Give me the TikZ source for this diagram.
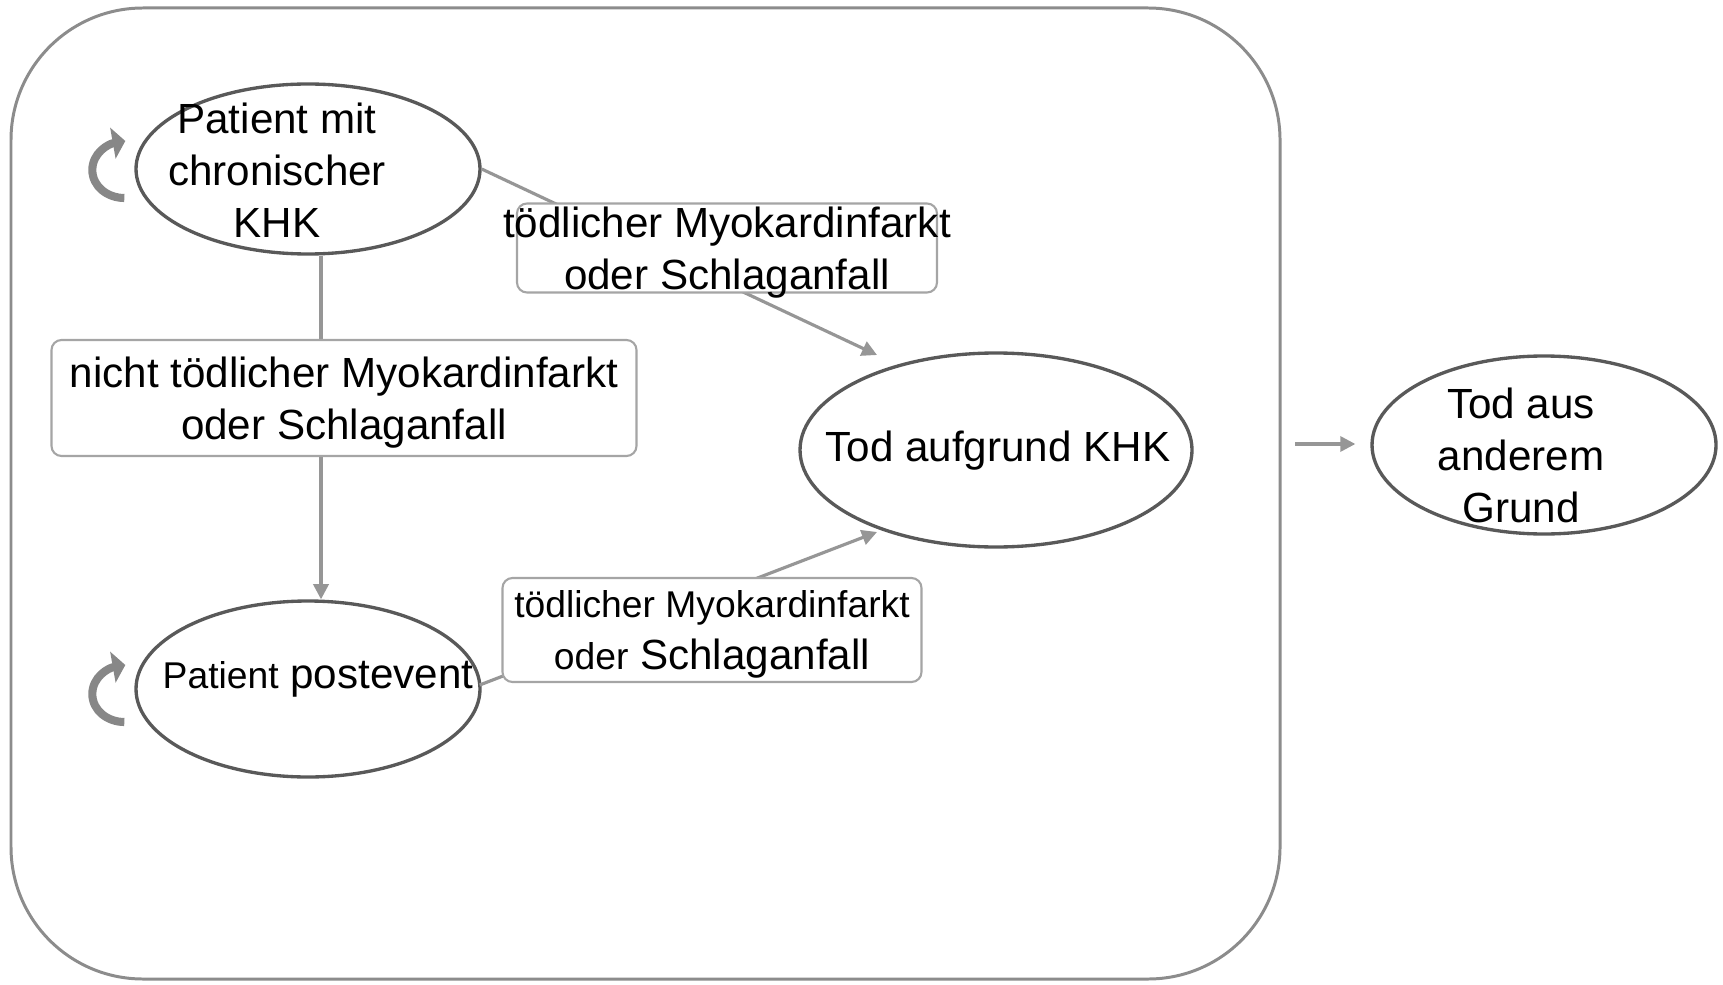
\documentclass[tikz,border=0pt]{standalone}
\usepackage{fontspec}
\setmainfont{Liberation Sans}
\usetikzlibrary{calc,positioning,shapes.geometric,arrows.meta}

\definecolor{rimgray}{RGB}{140,140,140}
\definecolor{ovalgray}{RGB}{89,89,89}
\definecolor{boxgray}{RGB}{165,165,165}
\definecolor{linegray}{RGB}{150,150,150}
\definecolor{cycgray}{RGB}{135,135,135}
\newcommand{\lgtxt}{\fontsize{12}{14.8}\selectfont}
\newcommand{\smtxt}{\fontsize{10.6}{13}\selectfont}

\begin{document}
\begin{tikzpicture}[x=0.1mm,y=-0.1mm,
  state/.style={ellipse,draw=ovalgray,line width=0.95pt,inner sep=0pt},
  lbl/.style={align=center,inner sep=0pt,font=\lgtxt},
  evbox/.style={rectangle,rounded corners=1mm,draw=boxgray,line width=0.6pt,fill=white,inner sep=0pt,align=center,font=\lgtxt,text depth=0pt},
  conn/.style={draw=linegray,line width=0.9pt,-{Triangle[length=4.3pt,width=4.3pt]},linegray},
  cycarrow/.style={draw=cycgray,line width=2.3pt,-{Triangle[length=3.6pt,width=8.8pt]},cycgray}
]
\useasboundingbox (0,0) rectangle (1723,984);

\draw[rimgray,line width=0.85pt,rounded corners=13.2mm] (11,8) rectangle (1280,979);

\node[state,minimum width=34.4mm,minimum height=17mm] (khk) at (308,169) {};
\node[lbl] (khktxt) at (277,170) {Patient mit\\chronischer\\KHK};
\node[state,minimum width=34.4mm,minimum height=17.6mm] (post) at (308,689) {};
\node[lbl] (posttxt) at (318,679) {{\smtxt Patient} postevent};
\node[state,minimum width=39.2mm,minimum height=19.4mm] (tod) at (996,450) {};
\node[lbl] (todtxt) at (998,451) {Tod aufgrund KHK};
\node[state,minimum width=34.4mm,minimum height=17.8mm] (andere) at (1544,445) {};
\node[lbl] (anderetxt) at (1521,455) {Tod aus\\anderem\\Grund};

\coordinate (t1) at (877,355);
\coordinate (t2) at (877,532);
\coordinate (src) at (1295,444);

\draw[conn] (khk.east) -- (t1);
\draw[conn] ($(khk.south)+(13,0)$) -- ($(post.north)+(13,0)$);
\draw[conn] ($(post.east)+(-2,-4)$) -- (t2);
\draw[conn] (src) -- ($(andere.west)+(-15,-1)$);

\node[evbox,minimum width=42mm,minimum height=8.9mm] (fatal1) at (727,248)
  {\makebox[0pt]{tödlicher Myokardinfarkt}\\\makebox[0pt]{oder Schlaganfall}};
\node[evbox,minimum width=58.5mm,minimum height=11.6mm] (nonfatal) at (344,398)
  {nicht tödlicher Myokardinfarkt\\oder Schlaganfall};
\node[evbox,minimum width=41.9mm,minimum height=10.4mm] (fatal2) at (712,630)
  {{\smtxt tödlicher Myokardinfarkt}\\{\smtxt oder} Schlaganfall};

\draw[cycarrow] ($(khk.west)+(-10,29)$) to[out=180,in=-90] ++(-32,-28) to[out=90,in=190] ++(33,-29);
\draw[cycarrow] ($(post.west)+(-10,33)$) to[out=180,in=-90] ++(-32,-28) to[out=90,in=190] ++(33,-29);
\end{tikzpicture}
\end{document}
